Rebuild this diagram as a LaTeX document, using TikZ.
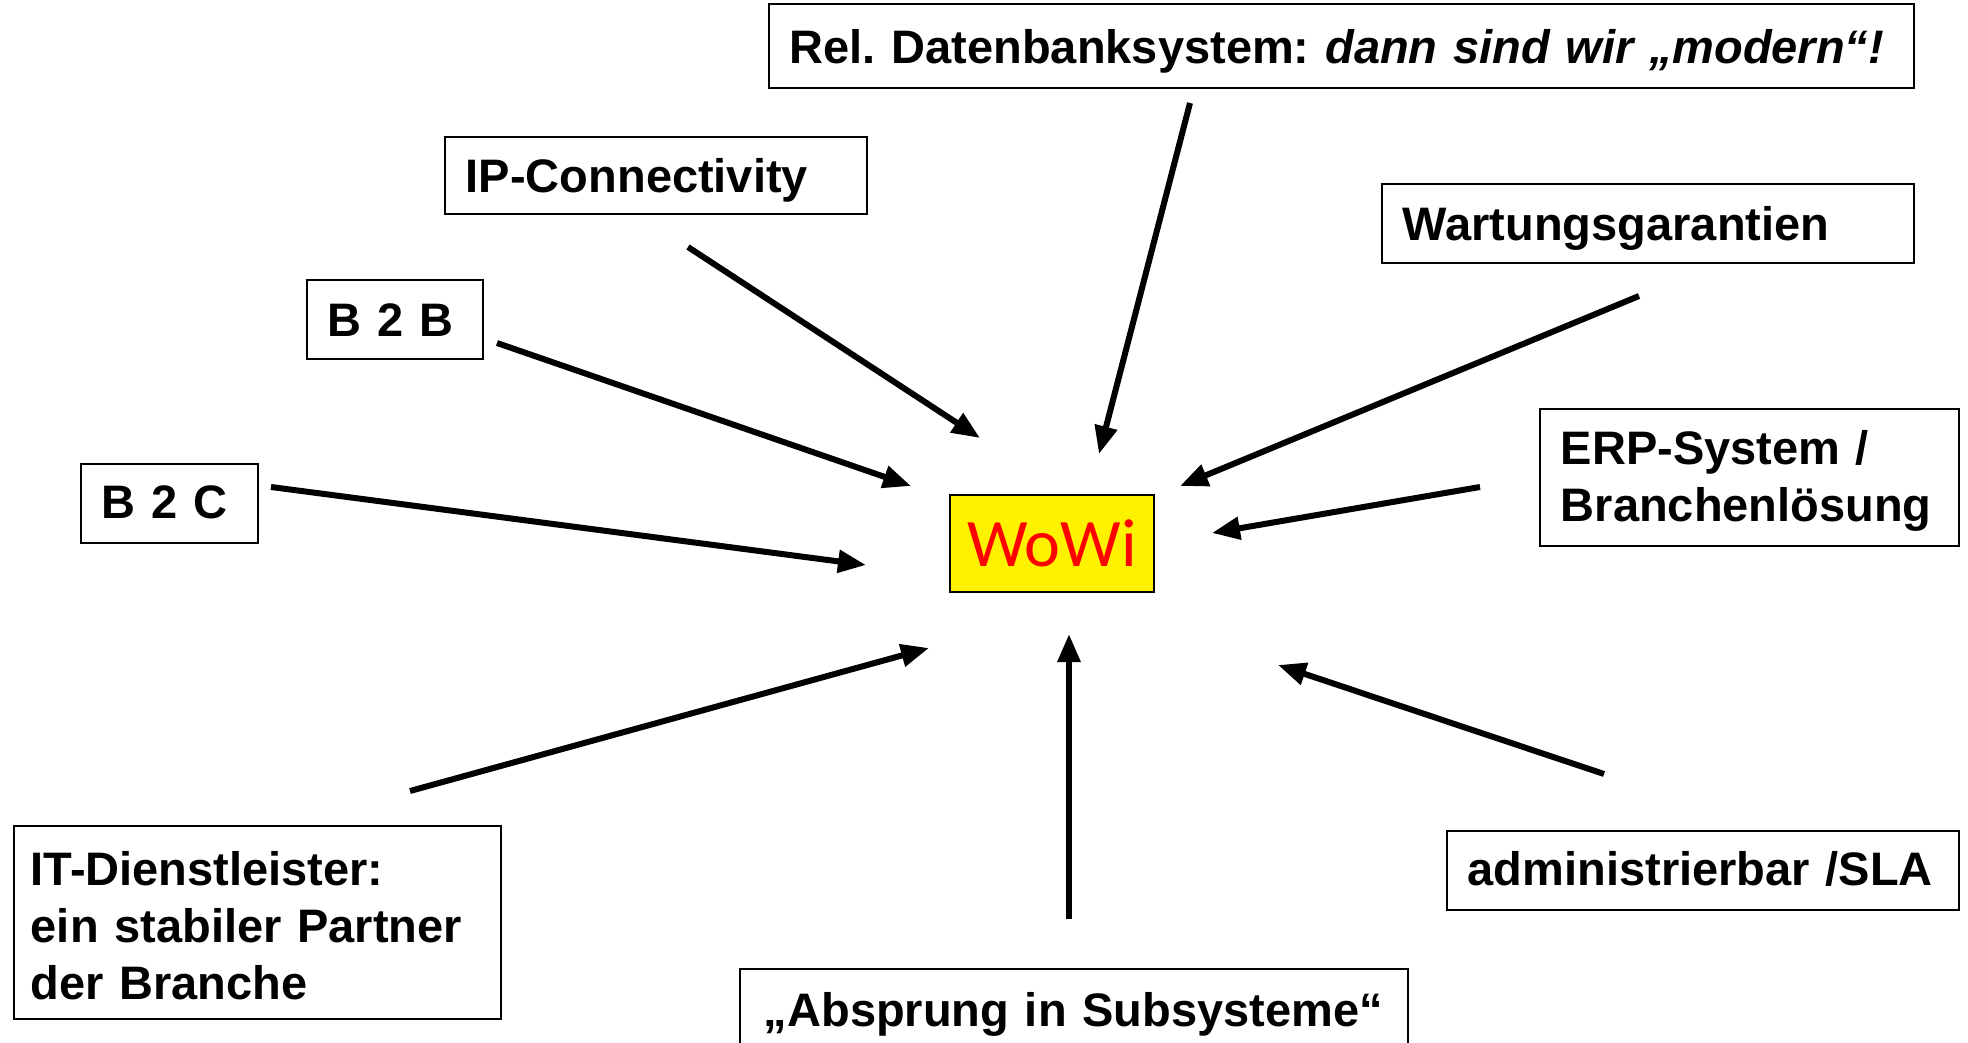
\documentclass[tikz,border=0pt]{standalone}
\usepackage{fontspec}
\setmainfont{Liberation Sans}
\newfontfamily\wowifont{Carlito}
\usetikzlibrary{arrows.meta}
\frenchspacing
\begin{document}
\begin{tikzpicture}[x=1pt,y=-1pt,
  box/.style={draw=black,line width=1.7pt,rectangle,anchor=north west,inner xsep=21pt,inner ysep=0pt,
     align=left,font=\fontsize{47}{57}\selectfont\bfseries},
  lower/.style={text height=#1,text depth=10pt},
  lower/.default=45pt,
  arr/.style={line width=6pt,-{Triangle[length=28pt,width=22pt]}}]
\useasboundingbox[fill=white] (0,0) rectangle (1968,1043);
% boxes
\node[box,lower,text width=1103pt,minimum height=84pt] (rel) at (768,3) {\mbox{Rel. Datenbanksystem: \textit{dann sind wir „modern“!}}};
\node[box,lower,text width=380pt,minimum height=77pt] (ip) at (444,136) {IP-Connectivity};
\node[box,lower,text width=490pt,minimum height=79pt] (wart) at (1381,183) {Wartungsgarantien};
\node[box,lower,text width=134pt,minimum height=79pt] (b2b) at (306,279) {B 2 B};
\node[box,text height=42pt,text width=377pt,minimum height=137pt] (erp) at (1539,408) {ERP-System /\\Branchenlösung};
\node[box,lower=40pt,text width=135pt,minimum height=79pt] (b2c) at (80,463) {B 2 C};
\node[draw=black,line width=2pt,fill=yellow,anchor=north west,minimum width=204pt,minimum height=97pt,inner sep=0pt,
  text=red,font=\fontsize{68}{68}\wowifont] (wowi) at (949,494) {WoWi};
\node[box,text height=41.5pt,inner xsep=17pt,text width=453pt,minimum height=193pt] (it) at (13,825) {IT-Dienstleister:\\ein stabiler Partner\\der Branche};
\node[box,lower=40pt,text width=470pt,minimum height=79pt] (admin) at (1446,830) {administrierbar /SLA};
\node[box,lower=42pt,inner xsep=24pt,text width=620pt,minimum height=84pt] (abs) at (739,968) {„Absprung in Subsysteme“};
% arrow ends
\coordinate (rel-s) at (1190,103);  \coordinate (rel-e) at (1099,454);
\coordinate (ip-s) at (688,247);    \coordinate (ip-e) at (980,438);
\coordinate (wart-s) at (1639,296); \coordinate (wart-e) at (1180,486);
\coordinate (b2b-s) at (497,343);   \coordinate (b2b-e) at (911,486);
\coordinate (erp-s) at (1480,487);  \coordinate (erp-e) at (1212,533);
\coordinate (b2c-s) at (271,487);   \coordinate (b2c-e) at (866,565);
\coordinate (it-s) at (410,791);    \coordinate (it-e) at (929,648);
\coordinate (abs-s) at (1069,919);  \coordinate (abs-e) at (1069,634);
\coordinate (admin-s) at (1604,774); \coordinate (admin-e) at (1278,665);
\foreach \n in {rel,ip,wart,b2b,erp,b2c,it,abs,admin}
  \draw[arr] (\n-s) -- (\n-e);
\end{tikzpicture}
\end{document}
